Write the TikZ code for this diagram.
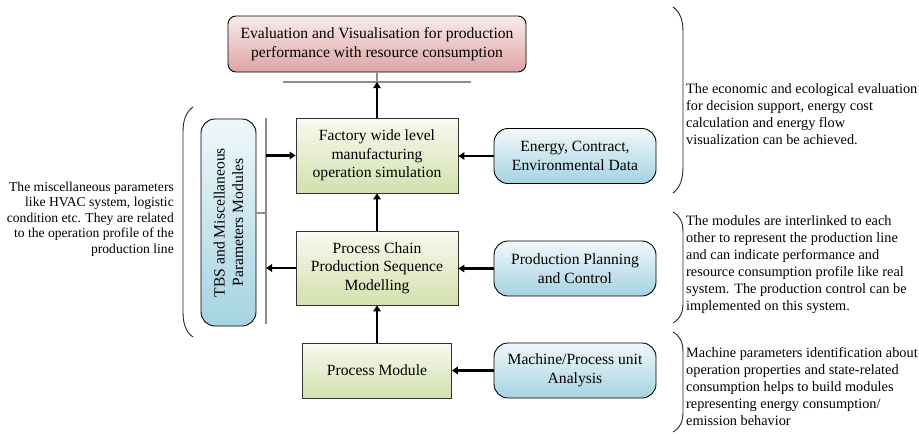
\documentclass[tikz,border=0pt]{standalone}
\usepackage{fontspec}
\setmainfont{Liberation Serif}
\usetikzlibrary{arrows.meta}
\definecolor{pinkT}{HTML}{F9EBEB}
\definecolor{pinkB}{HTML}{DEA4A4}
\definecolor{greenT}{HTML}{F8FAEF}
\definecolor{greenB}{HTML}{D3E0AE}
\definecolor{blueT}{HTML}{F0F8FB}
\definecolor{blueB}{HTML}{A5D3E0}
\definecolor{busgray}{HTML}{8C8C8C}
\begin{document}
\begin{tikzpicture}[x=1pt,y=-1pt,
  boxfont/.style={font=\fontsize{15.6}{18.5}\selectfont},
  evalbox/.style={boxfont, draw=black, line width=0.9pt, rounded corners=8pt,
    top color=pinkT, bottom color=pinkB, minimum width=298pt, minimum height=56pt,
    align=center, inner sep=2pt},
  modbox/.style={boxfont, draw=black!80, line width=0.8pt,
    top color=greenT, bottom color=greenB, align=center, inner sep=2pt},
  databox/.style={boxfont, draw=black, line width=0.9pt, rounded corners=14pt,
    top color=blueT, bottom color=blueB, minimum width=162pt, minimum height=55pt,
    align=center, inner sep=2pt},
  flow/.style={line width=2.2pt, -{Triangle[length=6pt,width=7.5pt]}},
  bus/.style={draw=busgray, line width=2pt},
  brace/.style={line width=0.9pt, draw=black!85},
  note/.style={font=\fontsize{14.3}{17}\selectfont, inner sep=0pt},
]
\useasboundingbox (0,0) rectangle (919,434);

% boxes
\node[evalbox] (ev) at (377,44) {Evaluation and Visualisation for production\\performance with resource consumption};
\node[modbox, minimum width=162pt, minimum height=75pt] (fac) at (377,155.5) {Factory wide level\\manufacturing\\operation simulation};
\node[modbox, minimum width=162pt, minimum height=74pt] (pc) at (377,268) {Process Chain\\Production Sequence\\Modelling};
\node[modbox, minimum width=149pt, minimum height=55pt] (pm) at (377,370.5) {Process Module};
\node[databox] (en) at (575,156) {Energy, Contract,\\Environmental Data};
\node[databox] (ppc) at (575,268.5) {Production Planning\\and Control};
\node[databox] (mach) at (575,370.5) {Machine/Process unit\\Analysis};
\node[boxfont, draw=black, line width=0.9pt, rounded corners=14pt, rotate=90,
  top color=blueT, bottom color=blueB, minimum width=207pt, minimum height=55pt,
  align=center, inner sep=2pt] (tbs) at (228.5,222.5) {TBS and Miscellaneous\\Parameters Modules};

% gray bus lines
\coordinate (busL) at (283,82);
\coordinate (busR) at (471,82);
\coordinate (vT) at (266,118);
\coordinate (vB) at (266,324);
\coordinate (tickR) at (266,213);
\coordinate (tickL) at (256,213);
\draw[bus] (busL) -- (busR);
\draw[bus] (ev.south) -- (ev.south |- busL);
\draw[bus] (vT) -- (vB);
\draw[bus] (tickL) -- (tickR);

% arrows
\draw[flow] (fac.north) -- (fac.north |- busL);
\draw[flow] (fac.west -| vT) -- (fac.west);
\draw[flow] (pc.west) -- (pc.west -| vT);
\draw[flow] (pc.north) -- (fac.south);
\draw[flow] (pm.north) -- (pc.south);
\draw[flow] (en.west) -- (en.west -| fac.east);
\draw[flow] (ppc.west) -- (ppc.west -| pc.east);
\draw[flow] (mach.west) -- (mach.west -| pm.east);

% brackets
\draw[brace] (193,107) .. controls (186,112) and (183,120) .. (183,132) -- (183,312) .. controls (183,324) and (186,332) .. (193,337);
\draw[brace] (673,7) .. controls (680,12) and (683,20) .. (683,32) -- (683,167) .. controls (683,179) and (680,188) .. (673,193);
\draw[brace] (673,212) .. controls (680,216) and (683,222) .. (683,232) -- (683,303) .. controls (683,313) and (680,319) .. (673,323);
\draw[brace] (673,332) .. controls (680,336) and (683,342) .. (683,352) -- (683,412) .. controls (683,422) and (680,428) .. (673,432);

% notes
\node[note, anchor=west, align=left] (n1) at (686,114) {The economic and ecological evaluation\\for decision support, energy cost\\calculation and energy flow\\visualization can be achieved.};
\node[note, anchor=west, align=left] (n2) at (686,265) {The modules are interlinked to each\\other to represent the production line\\and can indicate performance and\\resource consumption profile like real\\system. The production control can be\\implemented on this system.};
\node[note, anchor=west, align=left] (n3) at (686,387) {Machine parameters identification about\\operation properties and state-related\\consumption helps to build modules\\representing energy consumption/\\emission behavior};
\node[note, font=\fontsize{13.6}{15.5}\selectfont, anchor=east, align=right] (n4) at (174,219) {The miscellaneous parameters\\like HVAC system, logistic\\condition etc. They are related\\to the operation profile of the\\production line};
\end{tikzpicture}
\end{document}
